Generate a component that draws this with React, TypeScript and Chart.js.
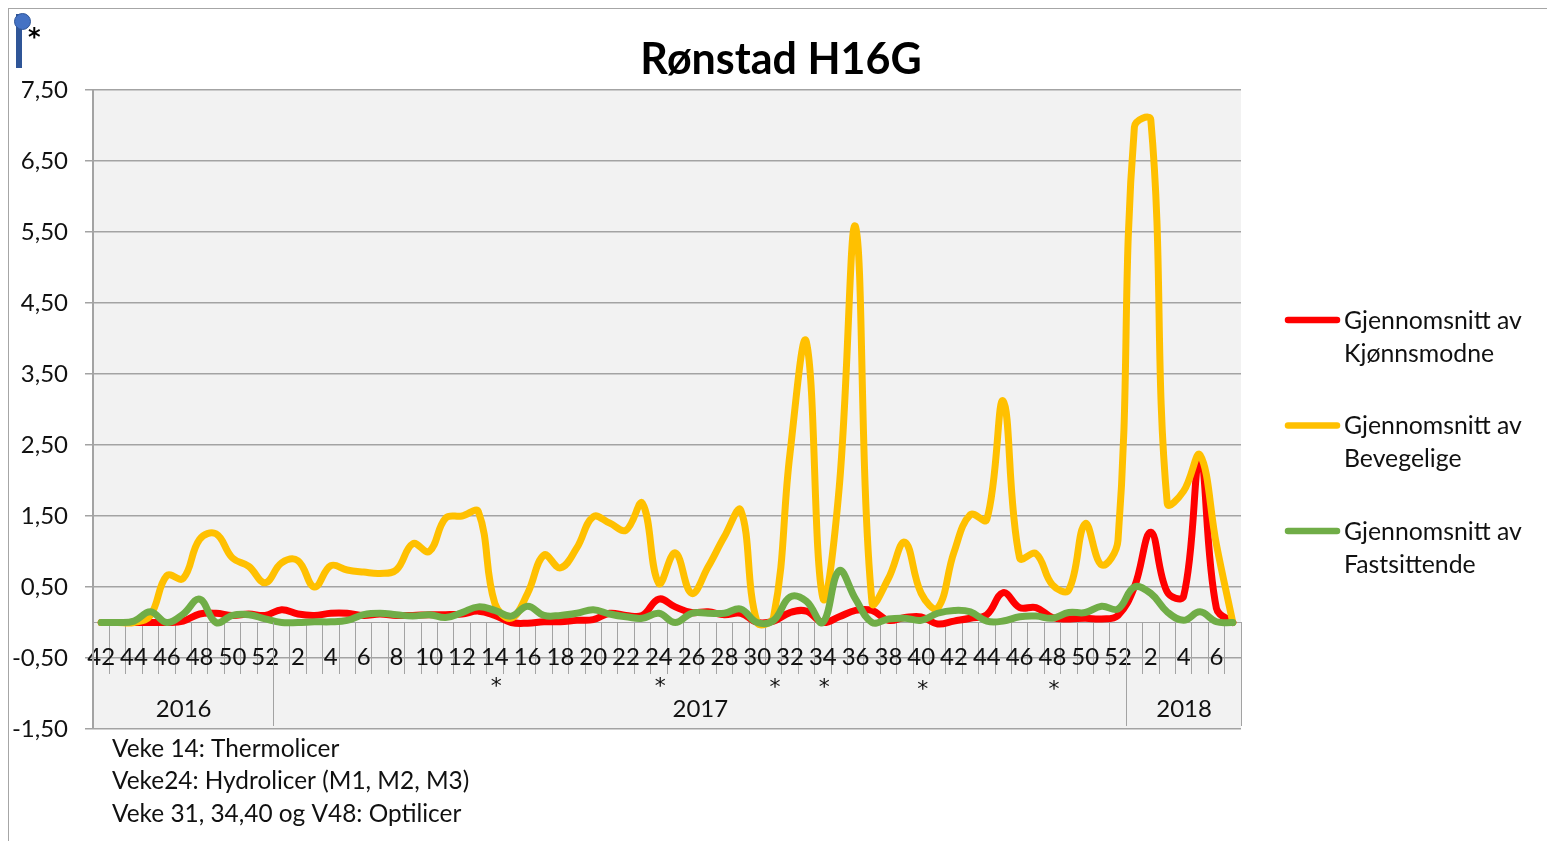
import React, { useEffect, useRef } from "react";
import { Chart, registerables, layouts } from "chart.js";

Chart.register(...registerables);

const weeks = [
  42, 43, 44, 45, 46, 47, 48, 49, 50, 51, 52,
  1, 2, 3, 4, 5, 6, 7, 8, 9, 10, 11, 12, 13, 14, 15, 16, 17, 18, 19, 20, 21, 22, 23, 24, 25, 26,
  27, 28, 29, 30, 31, 32, 33, 34, 35, 36, 37, 38, 39, 40, 41, 42, 43, 44, 45, 46, 47, 48, 49, 50, 51, 52,
  1, 2, 3, 4, 5, 6, 7,
];
const categories = weeks.map((w, i) => `${i}:${w}`);

const kjonnsmodne = [
  0, 0, 0, 0, 0, 0.02, 0.12, 0.13, 0.1, 0.12, 0.1, 0.18, 0.12, 0.1, 0.13, 0.13, 0.1, 0.12, 0.1, 0.1, 0.11, 0.11, 0.12, 0.16,
  0.1, 0, -0.01, 0.01, 0.01, 0.03, 0.04, 0.13, 0.1, 0.1, 0.33, 0.22, 0.14, 0.15, 0.11, 0.13, 0, 0.02, 0.14, 0.16, 0, 0.08,
  0.17, 0.17, 0.03, 0.07, 0.08, -0.02, 0.02, 0.06, 0.11, 0.42, 0.21, 0.21, 0.07, 0.05, 0.06, 0.05, 0.1, 0.5, 1.27, 0.43,
  0.37, 2.3, 0.2, 0,
];
const bevegelige = [
  0, 0, 0, 0.1, 0.66, 0.62, 1.17, 1.25, 0.91, 0.79, 0.56, 0.84, 0.87, 0.5, 0.8, 0.74, 0.71, 0.69, 0.74, 1.11, 1.0, 1.47,
  1.5, 1.56, 0.27, 0.06, 0.41, 0.95, 0.77, 1.05, 1.49, 1.4, 1.3, 1.68, 0.55, 0.98, 0.41, 0.78, 1.21, 1.58, 0, 0.08, 2.38,
  3.95, 0.35, 1.9, 5.57, 0.28, 0.62, 1.13, 0.41, 0.2, 0.99, 1.52, 1.45, 3.12, 0.91, 0.97, 0.53, 0.46, 1.39, 0.81, 1.16,
  6.98, 7.08, 1.68, 1.85, 2.36, 1.1, 0,
];
const fastsittende = [
  0, 0, 0.02, 0.15, 0, 0.12, 0.33, 0, 0.1, 0.11, 0.05, 0, 0, 0.01, 0.01, 0.03, 0.11, 0.13, 0.11, 0.09, 0.11, 0.07, 0.14,
  0.22, 0.17, 0.09, 0.23, 0.1, 0.1, 0.13, 0.18, 0.12, 0.08, 0.06, 0.13, 0, 0.13, 0.13, 0.13, 0.19, 0, 0.03, 0.36, 0.3, 0,
  0.73, 0.33, 0, 0.05, 0.06, 0.03, 0.13, 0.17, 0.15, 0.02, 0.02, 0.08, 0.09, 0.06, 0.14, 0.14, 0.23, 0.19, 0.5, 0.41,
  0.15, 0.03, 0.15, 0.01, 0,
];

const yTicks = [-1.5, -0.5, 0.5, 1.5, 2.5, 3.5, 4.5, 5.5, 6.5, 7.5];
const seriesNames = [
  ["Gjennomsnitt av", "Kjønnsmodne"],
  ["Gjennomsnitt av", "Bevegelige"],
  ["Gjennomsnitt av", "Fastsittende"],
];
const seriesColors = ["#ff0000", "#ffc000", "#70ad47"];
const yearLabels = ["2016", "2017", "2018"];
const yearFirst = [0, 11, 63];
const yearLast = [10, 62, 69];
const starIndexes = [24, 34, 41, 44, 50, 58];
const starValues = [-0.91, -0.91, -0.92, -0.92, -0.95, -0.95];
const notes = ["Veke 14: Thermolicer", "Veke24: Hydrolicer (M1, M2, M3)", "Veke 31, 34,40 og V48: Optilicer"];

const FONT = "Lato, Carlito, sans-serif";
const GRID = "#a3a3a3";
const TEXT = "#111111";

const decorPlugin = {
  id: "decor",
  beforeDraw(chart: any) {
    const { ctx, chartArea: a } = chart;
    ctx.save();
    ctx.fillStyle = "#f2f2f2";
    ctx.fillRect(a.left, a.top, a.right - a.left, a.bottom - a.top);
    ctx.restore();
  },
  afterDraw(chart: any) {
    const { ctx, chartArea: a, scales } = chart;
    const x = scales.x;
    const zero = scales.y.getPixelForValue(0);
    const half = (x.getPixelForValue(1) - x.getPixelForValue(0)) / 2;
    ctx.save();
    ctx.textBaseline = "middle";
    ctx.textAlign = "center";
    ctx.fillStyle = TEXT;
    ctx.font = `24px ${FONT}`;
    yearLabels.forEach((label, i) => {
      const l = x.getPixelForValue(yearFirst[i]) - half;
      const r = x.getPixelForValue(yearLast[i]) + half;
      ctx.fillText(label, (l + r) / 2 + 0.5, a.bottom - 20);
      ctx.strokeStyle = GRID;
      ctx.lineWidth = 1;
      ctx.beginPath();
      ctx.moveTo(Math.round(r) + 0.5, zero);
      ctx.lineTo(Math.round(r) + 0.5, a.bottom - 3);
      ctx.stroke();
    });
    ctx.font = `22px "DejaVu Sans"`;
    starIndexes.forEach((idx, i) => {
      ctx.fillText("*", x.getPixelForValue(idx) + 1.5, scales.y.getPixelForValue(starValues[i]));
    });
    ctx.textAlign = "left";
    ctx.font = `24.4px ${FONT}`;
    notes.forEach((n, i) => {
      ctx.fillText(n, 104, 741 + i * 32.5);
    });
    ctx.restore();
  },
};

const legendSpacePlugin = {
  id: "legendSpace",
  beforeInit(chart: any) {
    const box: any = {
      position: "right",
      weight: 0,
      fullSize: false,
      options: {},
      width: 313,
      height: 0,
      isHorizontal: () => false,
      update(_w: number, h: number) {
        box.width = 313;
        box.height = h;
      },
      draw() {
        const { ctx } = chart;
        ctx.save();
        ctx.textBaseline = "middle";
        ctx.textAlign = "left";
        ctx.font = `24.8px ${FONT}`;
        chart.data.datasets.forEach((d: any, i: number) => {
          const y = 312 + i * 105.5;
          ctx.strokeStyle = d.borderColor;
          ctx.lineWidth = 6.5;
          ctx.lineCap = "round";
          ctx.beginPath();
          ctx.moveTo(1280, y);
          ctx.lineTo(1329, y);
          ctx.stroke();
          ctx.fillStyle = TEXT;
          seriesNames[i].forEach((line, j) => ctx.fillText(line, 1336, y + 1 + j * 33));
        });
        ctx.restore();
      },
    };
    layouts.addBox(chart, box);
  },
};

export default function App() {
  const ref = useRef<HTMLCanvasElement>(null);
  useEffect(() => {
    const chart = new Chart(ref.current!, {
      type: "line",
      data: {
        labels: categories,
        datasets: [kjonnsmodne, bevegelige, fastsittende].map((values, i) => ({
          label: seriesNames[i].join(" "),
          data: values,
          borderColor: seriesColors[i],
          backgroundColor: seriesColors[i],
          borderWidth: 7,
          tension: 0.4,
          borderCapStyle: "round",
          borderJoinStyle: "round",
          pointRadius: 0,
          order: 3 - i,
        })),
      },
      options: {
        animation: false,
        responsive: false,
        layout: { padding: { left: 0, right: 0, top: 0, bottom: 112 } },
        plugins: {
          legend: { display: false },
          tooltip: { enabled: false },
          title: {
            display: true,
            text: "Rønstad H16G",
            color: "#000000",
            font: { family: FONT, size: 43, weight: "bold", lineHeight: 1.2 },
            padding: { top: 26.5, bottom: 3.9 },
          },
        },
        scales: {
          x: {
            type: "category",
            position: { y: 0 },
            offset: true,
            border: { display: true, color: GRID, width: 1 },
            grid: { offset: true, drawOnChartArea: false, drawTicks: true, tickLength: 51, color: GRID, lineWidth: 1 },
            ticks: {
              autoSkip: false,
              maxRotation: 0,
              minRotation: 0,
              padding: -31,
              color: TEXT,
              font: { family: FONT, size: 24 },
              callback: (_v: any, i: number) => (i % 2 === 0 ? String(weeks[i]) : ""),
            },
          },
          y: {
            min: -1.5,
            max: 7.5,
            afterBuildTicks: (axis: any) => {
              axis.ticks = yTicks.map((value) => ({ value }));
            },
            afterFit: (axis: any) => {
              axis.width = 85;
            },
            border: { display: true, color: GRID, width: 2 },
            grid: { color: GRID, lineWidth: 1.5, tickLength: 8 },
            ticks: {
              padding: 17,
              color: TEXT,
              font: { family: FONT, size: 24 },
              callback: (v: any) => Number(v).toFixed(2).replace(".", ","),
            },
          },
        },
      },
      plugins: [decorPlugin, legendSpacePlugin],
    } as any);
    return () => chart.destroy();
  }, []);
  return (
    <div
      style={{
        position: "fixed",
        left: 8,
        top: 8,
        right: 0,
        bottom: 0,
        overflow: "hidden",
        borderTop: "1px solid #a6a6a6",
        borderLeft: "1px solid #a6a6a6",
        boxSizing: "border-box",
      }}
    >
      <canvas ref={ref} width={1546} height={833} style={{ position: "absolute", left: -1, top: -1, display: "block" }} />
      <div style={{ position: "absolute", left: 7, top: 5, width: 6, height: 54, background: "#2f5597" }} />
      <div
        style={{ position: "absolute", left: 5, top: 4, width: 17, height: 17, borderRadius: "50%", background: "#4472c4", border: "1px solid #2f5597", boxSizing: "border-box" }}
      />
      <div style={{ position: "absolute", left: 19, top: 14, font: `bold 24px "DejaVu Sans"`, color: "#000" }}>*</div>
    </div>
  );
}
